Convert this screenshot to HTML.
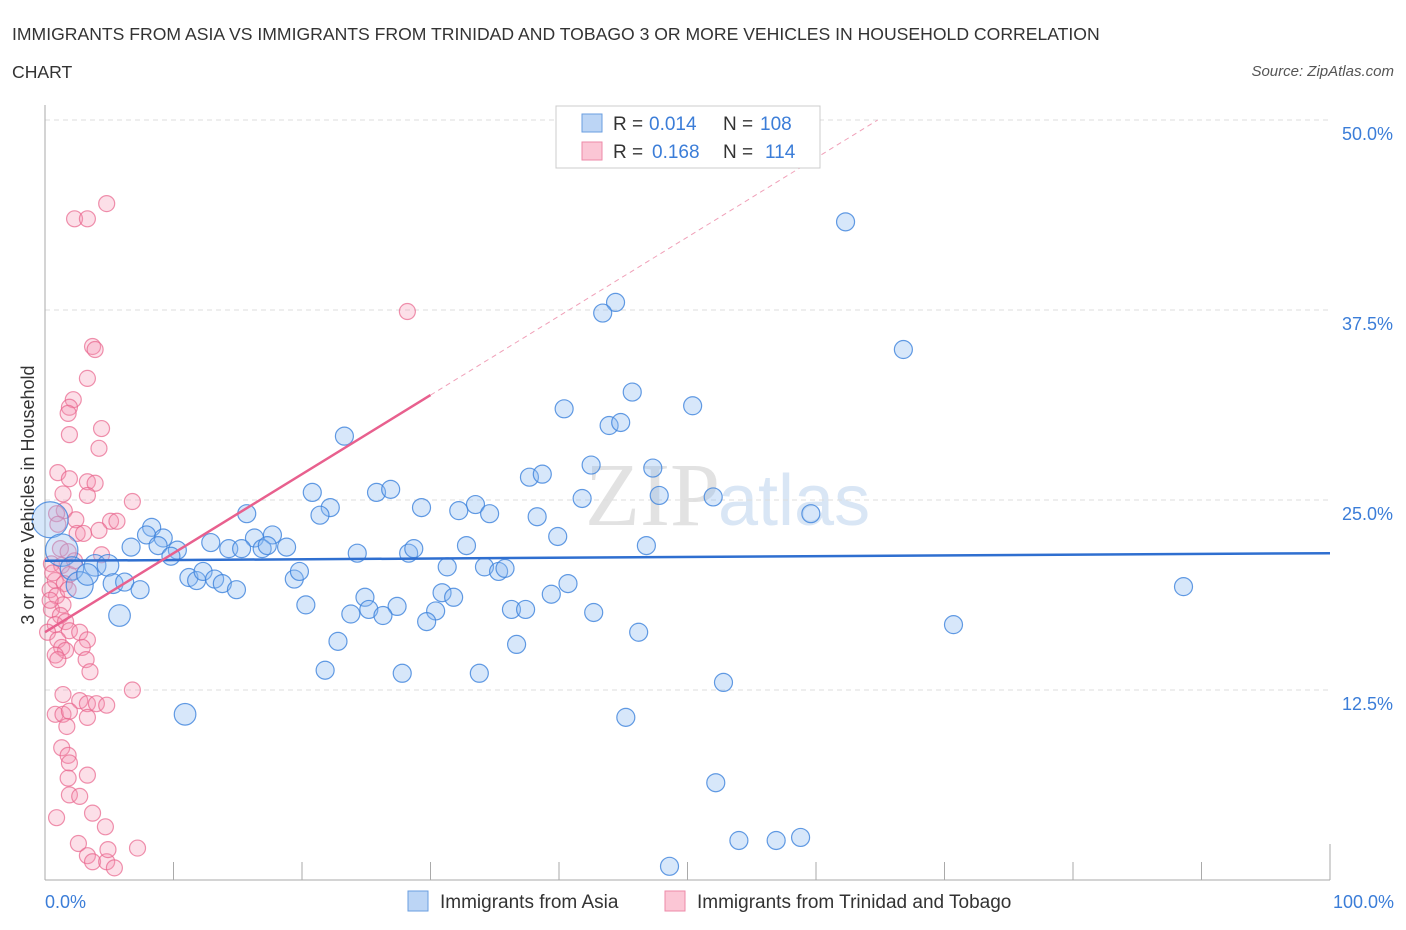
<!DOCTYPE html>
<html><head><meta charset="utf-8"><style>
body{margin:0;background:#fff;font-family:"Liberation Sans",sans-serif}
#c{position:absolute;left:0;top:0}
</style></head><body>
<svg id="c" width="1406" height="930">
<text x="12" y="40" font-size="17.6" fill="#333">IMMIGRANTS FROM ASIA VS IMMIGRANTS FROM TRINIDAD AND TOBAGO 3 OR MORE VEHICLES IN HOUSEHOLD CORRELATION</text>
<text x="12" y="78" font-size="17.6" fill="#333">CHART</text>
<text x="1394" y="76" font-size="15" font-style="italic" fill="#555" text-anchor="end">Source: ZipAtlas.com</text>
<text x="720" y="525" font-size="90" font-family="Liberation Serif" fill="#e2e2e2" text-anchor="end">ZIP</text>
<text x="718" y="525" font-size="72" fill="#d9e6f5">atlas</text>
<g id="grid"></g>
<g id="axes"></g>
<g id="pts"></g>
<g id="trend"></g>
<text transform="translate(34,495) rotate(-90)" font-size="18" fill="#333" text-anchor="middle">3 or more Vehicles in Household</text>
<text x="45" y="908" font-size="18" fill="#3b7dd8">0.0%</text>
<text x="1394" y="908" font-size="18" fill="#3b7dd8" text-anchor="end">100.0%</text>
<g>
<rect x="556" y="106" width="264" height="62" fill="#fff" stroke="#ccc"/>
<rect x="582" y="114" width="20" height="18" fill="#bcd5f5" stroke="#6a9ee0"/>
<rect x="582" y="142" width="20" height="18" fill="#fbc6d5" stroke="#ee8aa8"/>
<text x="613" y="130" font-size="19" fill="#333">R =</text>
<text x="649" y="130" font-size="19" fill="#3b7dd8">0.014</text>
<text x="723" y="130" font-size="19" fill="#333">N =</text>
<text x="760" y="130" font-size="19" fill="#3b7dd8">108</text>
<text x="613" y="158" font-size="19" fill="#333">R =</text>
<text x="652" y="158" font-size="19" fill="#3b7dd8">0.168</text>
<text x="723" y="158" font-size="19" fill="#333">N =</text>
<text x="765" y="158" font-size="19" fill="#3b7dd8">114</text>
</g>
<g>
<rect x="408" y="891" width="20" height="20" fill="#bcd5f5" stroke="#6a9ee0"/>
<text x="440" y="908" font-size="19" fill="#333">Immigrants from Asia</text>
<rect x="665" y="891" width="20" height="20" fill="#fbc6d5" stroke="#ee8aa8"/>
<text x="697" y="908" font-size="19" fill="#333">Immigrants from Trinidad and Tobago</text>
</g>
</svg>
<script>
const yTicks=[12.5,25,37.5,50];
const yTickLabels=["12.5%","25.0%","37.5%","50.0%"];
const blueX=[62.3,44.4,43.4,66.8,45.7,40.4,50.4,43.9,44.8,23.3,42.5,47.3,37.7,38.7,20.8,25.8,26.9,41.8,47.8,52.0,33.5,29.3,32.2,22.2,21.4,34.6,38.3,59.6,15.7,8.3,7.9,9.2,12.9,16.3,17.7,39.9,6.7,8.8,10.3,14.3,15.3,16.9,18.8,17.3,9.8,24.3,28.3,28.7,32.8,46.8,0.4,1.3,2.1,2.7,3.9,4.9,3.3,5.3,6.2,7.4,5.8,11.2,11.8,12.3,13.2,13.8,14.9,19.4,19.8,20.3,31.3,34.2,35.3,35.8,40.7,30.9,31.8,24.9,25.2,27.4,23.8,26.3,30.4,29.7,36.3,37.4,39.4,42.7,88.6,22.8,36.7,46.2,70.7,21.8,27.8,33.8,52.8,10.9,45.2,52.2,54.0,56.9,58.8,48.6];
const blueY=[43.3,38.0,37.3,34.9,32.1,31.0,31.2,29.9,30.1,29.2,27.3,27.1,26.5,26.7,25.5,25.5,25.7,25.1,25.3,25.2,24.7,24.5,24.3,24.5,24.0,24.1,23.9,24.1,24.1,23.2,22.7,22.5,22.2,22.5,22.7,22.6,21.9,22.0,21.7,21.8,21.8,21.8,21.9,22.0,21.3,21.5,21.5,21.8,22.0,22.0,23.7,21.7,20.5,19.4,20.7,20.7,20.1,19.5,19.6,19.1,17.4,19.9,19.7,20.3,19.8,19.5,19.1,19.8,20.3,18.1,20.6,20.6,20.3,20.5,19.5,18.9,18.6,18.6,17.8,18.0,17.5,17.4,17.7,17.0,17.8,17.8,18.8,17.6,19.3,15.7,15.5,16.3,16.8,13.8,13.6,13.6,13.0,10.9,10.7,6.4,2.6,2.6,2.8,0.9];
const blueSize=[1,1,1,1,1,1,1,1,1,1,1,1,1,1,1,1,1,1,1,1,1,1,1,1,1,1,1,1,1,1,1,1,1,1,1,1,1,1,1,1,1,1,1,1,1,1,1,1,1,1,2,1.8,1.3,1.5,1.2,1.2,1.2,1.1,1,1,1.2,1,1,1,1,1,1,1,1,1,1,1,1,1,1,1,1,1,1,1,1,1,1,1,1,1,1,1,1,1,1,1,1,1,1,1,1,1.2,1,1,1,1,1,1];
const pinkX=[2.3,3.3,4.8,28.2,3.7,3.9,3.3,2.2,1.9,1.8,4.4,1.9,4.2,1.0,1.9,3.3,3.9,1.4,3.3,6.8,1.5,0.9,2.4,5.1,5.6,2.5,3.0,4.2,1.2,1.8,4.4,0.5,1.3,1.9,0.8,1.5,0.4,0.9,1.8,1.4,0.5,1.2,0.8,1.6,0.2,1.9,2.7,1.0,3.3,1.3,1.6,0.8,2.9,3.2,1.0,3.5,1.4,2.7,3.3,4.0,4.8,6.8,0.8,1.4,1.9,3.3,1.7,1.3,1.8,1.9,3.3,1.8,1.9,2.7,3.7,0.9,4.7,2.6,3.3,3.7,4.8,5.4,7.2,4.9,0.4,0.6,2.3,1.0];
const pinkY=[43.5,43.5,44.5,37.4,35.1,34.9,33.0,31.6,31.1,30.7,29.7,29.3,28.4,26.8,26.4,26.2,26.1,25.4,25.3,24.9,24.3,24.1,23.7,23.6,23.6,22.8,22.8,23.0,21.8,21.6,21.4,20.8,20.7,20.1,19.7,19.5,19.1,18.7,19.1,18.1,17.8,17.4,16.8,17.0,16.3,16.4,16.3,15.8,15.8,15.3,15.1,14.8,15.3,14.5,14.5,13.7,12.2,11.8,11.6,11.6,11.5,12.5,10.9,10.9,11.1,10.7,10.1,8.7,8.2,7.7,6.9,6.7,5.6,5.5,4.4,4.1,3.5,2.4,1.6,1.2,1.2,0.8,2.1,2.0,18.4,20.2,21.0,23.4];
const blueTrend=[21.0,21.5];
const pinkTrend=[16.3,31.9];
const pinkTrendEnd=30;
const X0=45,X1=1330,Y0=880,Y1=120;
const sx=v=>X0+(X1-X0)*v/100;
const sy=v=>Y0-(Y0-Y1)*v/50;
const NS="http://www.w3.org/2000/svg";
function mk(p,t,a){const e=document.createElementNS(NS,t);for(const k in a)e.setAttribute(k,a[k]);p.appendChild(e);return e;}
const grid=document.getElementById('grid'),axes=document.getElementById('axes'),pts=document.getElementById('pts'),tr=document.getElementById('trend');
yTicks.forEach((t,i)=>{
 const l=mk(grid,'line',{x1:X0,x2:X1,y1:sy(t),y2:sy(t),stroke:'#ddd','stroke-dasharray':'5,4'});
 
 
 const tx=mk(grid,'text',{x:1393,y:sy(t)+20,'font-size':18,fill:'#3b7dd8','text-anchor':'end'});
 tx.textContent=yTickLabels[i];
 
 
});
const ya=mk(axes,'line',{x1:X0,x2:X0,y1:105,y2:Y0,stroke:'#aaa'});


const xa=mk(axes,'line',{x1:X0,x2:X1,y1:Y0,y2:Y0,stroke:'#aaa'});


for(let i=1;i<=10;i++){const t=mk(axes,'line',{x1:sx(i*10),x2:sx(i*10),y1:Y0,y2:Y0-(i==10?36:18),stroke:'#aaa'});
 
 }
pinkX.forEach((x,i)=>{const c=mk(pts,'circle',{cx:sx(x),cy:sy(pinkY[i]),r:8,fill:'rgba(246,150,180,0.3)',stroke:'rgba(232,100,140,0.7)','stroke-width':1.2});
 
 });
blueX.forEach((x,i)=>{const c=mk(pts,'circle',{cx:sx(x),cy:sy(blueY[i]),r:9*blueSize[i],fill:'rgba(140,185,240,0.35)',stroke:'rgba(60,130,220,0.8)','stroke-width':1.2});
 
 });
const bl=mk(tr,'line',{x1:sx(0),y1:sy(blueTrend[0]),x2:sx(100),y2:sy(blueTrend[1]),stroke:'#2f6fd0','stroke-width':2.5});


const slope=(pinkTrend[1]-pinkTrend[0])/pinkTrendEnd;
const pl=mk(tr,'line',{x1:sx(0),y1:sy(pinkTrend[0]),x2:sx(pinkTrendEnd),y2:sy(pinkTrend[1]),stroke:'#e8608e','stroke-width':2.5});


const xe=(50-pinkTrend[0])/slope;
const pd=mk(tr,'line',{x1:sx(pinkTrendEnd),y1:sy(pinkTrend[1]),x2:sx(xe),y2:sy(50),stroke:'#f0a0b8','stroke-width':1,'stroke-dasharray':'5,4'});


</script>
</body></html>
